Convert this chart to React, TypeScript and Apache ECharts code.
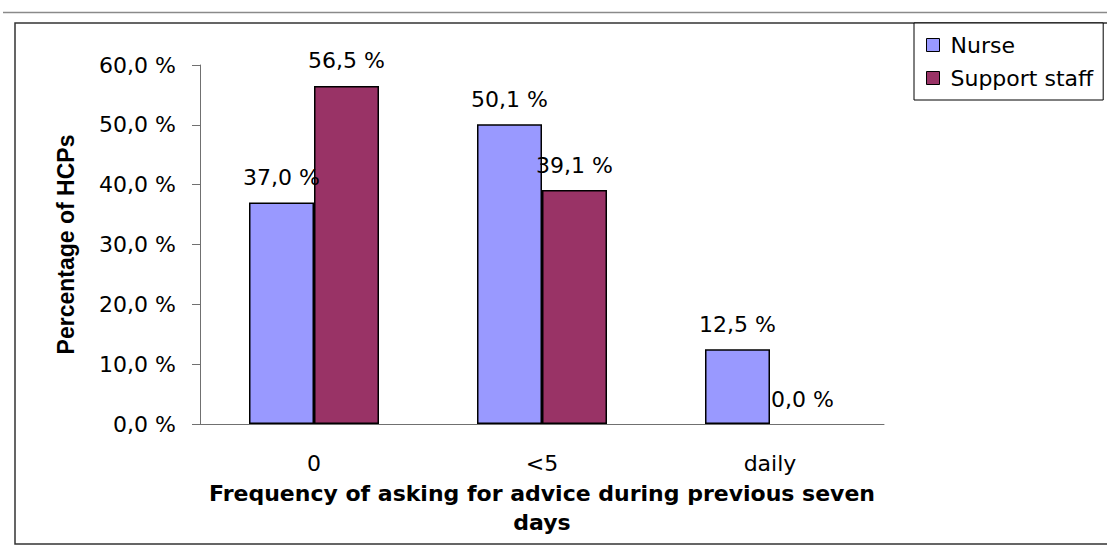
import React, { useEffect, useRef } from "react";
import * as echarts from "echarts";

const categories = ["0", "<5", "daily"];
const nurseValues = [37.0, 50.1, 12.5];
const supportStaffValues = [56.5, 39.1, 0.0];
const seriesNames = ["Nurse", "Support staff"];
const yTicks = { min: 0, max: 60, interval: 10 };

const FONT = "'DejaVu Sans', sans-serif";
const pct = (v: number) => v.toFixed(1).replace(".", ",") + " %";

// Zero-height bars get no outline so only their label shows.
const toBarData = (values: number[]) =>
  values.map((v) => (v === 0 ? { value: v, itemStyle: { borderWidth: 0 } } : v));

export default function App() {
  const ref = useRef<HTMLDivElement>(null);

  useEffect(() => {
    if (!ref.current) return;
    const chart = echarts.init(ref.current, undefined, { renderer: "svg" });

    const barLabel = {
      show: true,
      position: "top" as const,
      distance: 14,
      color: "#000",
      fontFamily: FONT,
      fontSize: 22,
      formatter: (p: any) => pct(p.value),
    };

    chart.setOption({
      animation: false,
      backgroundColor: "#fff",
      graphic: [
        {
          type: "line",
          shape: { x1: 3, y1: 12.5, x2: 1107, y2: 12.5 },
          style: { stroke: "#8a8a8a", lineWidth: 1.5 },
          silent: true,
        },
        {
          type: "rect",
          shape: { x: 15, y: 23, width: 1200, height: 521 },
          style: { fill: "none", stroke: "#333", lineWidth: 1.5 },
          silent: true,
          z: -1,
        },
      ],
      legend: {
        orient: "vertical",
        left: 914,
        top: 23,
        padding: [11, 10, 11, 12],
        itemGap: 11,
        itemWidth: 13,
        itemHeight: 13,
        icon: "rect",
        borderColor: "#000",
        borderWidth: 1,
        backgroundColor: "#fff",
        itemStyle: { borderColor: "#000", borderWidth: 1 },
        textStyle: { fontFamily: FONT, fontSize: 22, color: "#000", padding: [0, 0, 0, 6] },
        data: seriesNames,
      },
      grid: { left: 200, right: 223, top: 65, bottom: 123, containLabel: false },
      xAxis: {
        type: "category",
        data: categories,
        name: "Frequency of asking for advice during previous seven\ndays",
        nameLocation: "middle",
        nameGap: 54,
        nameTextStyle: {
          fontFamily: FONT,
          fontSize: 22,
          fontWeight: "bold",
          color: "#000",
          lineHeight: 29,
          align: "center",
        },
        axisLine: { lineStyle: { color: "#707070", width: 1 } },
        axisTick: { length: 8, lineStyle: { color: "#707070" } },
        axisLabel: { fontFamily: FONT, fontSize: 22, color: "#000", margin: 28 },
      },
      yAxis: {
        type: "value",
        min: yTicks.min,
        max: yTicks.max,
        interval: yTicks.interval,
        name: "Percentage of HCPs",
        nameLocation: "middle",
        nameRotate: 90,
        nameGap: 123,
        nameTextStyle: {
          fontFamily: "'Liberation Sans', Arial, sans-serif",
          fontSize: 23,
          fontWeight: "bold",
          color: "#000",
        },
        axisLine: { show: true, lineStyle: { color: "#707070", width: 1 } },
        axisTick: { show: true, length: 8, lineStyle: { color: "#707070" } },
        splitLine: { show: false },
        axisLabel: {
          fontFamily: FONT,
          fontSize: 22,
          color: "#000",
          margin: 24,
          formatter: (v: number) => pct(v),
        },
      },
      series: [
        {
          name: seriesNames[0],
          type: "bar",
          data: toBarData(nurseValues),
          barWidth: 65,
          barGap: "0%",
          itemStyle: { color: "#9999FF", borderColor: "#000", borderWidth: 1.5 },
          label: barLabel,
        },
        {
          name: seriesNames[1],
          type: "bar",
          data: toBarData(supportStaffValues),
          barWidth: 65,
          barGap: "0%",
          itemStyle: { color: "#993366", borderColor: "#000", borderWidth: 1.5 },
          label: barLabel,
        },
      ],
    });

    return () => chart.dispose();
  }, []);

  return (
    <div
      ref={ref}
      style={{ position: "fixed", left: 0, top: 0, width: 1107, height: 547 }}
    />
  );
}
